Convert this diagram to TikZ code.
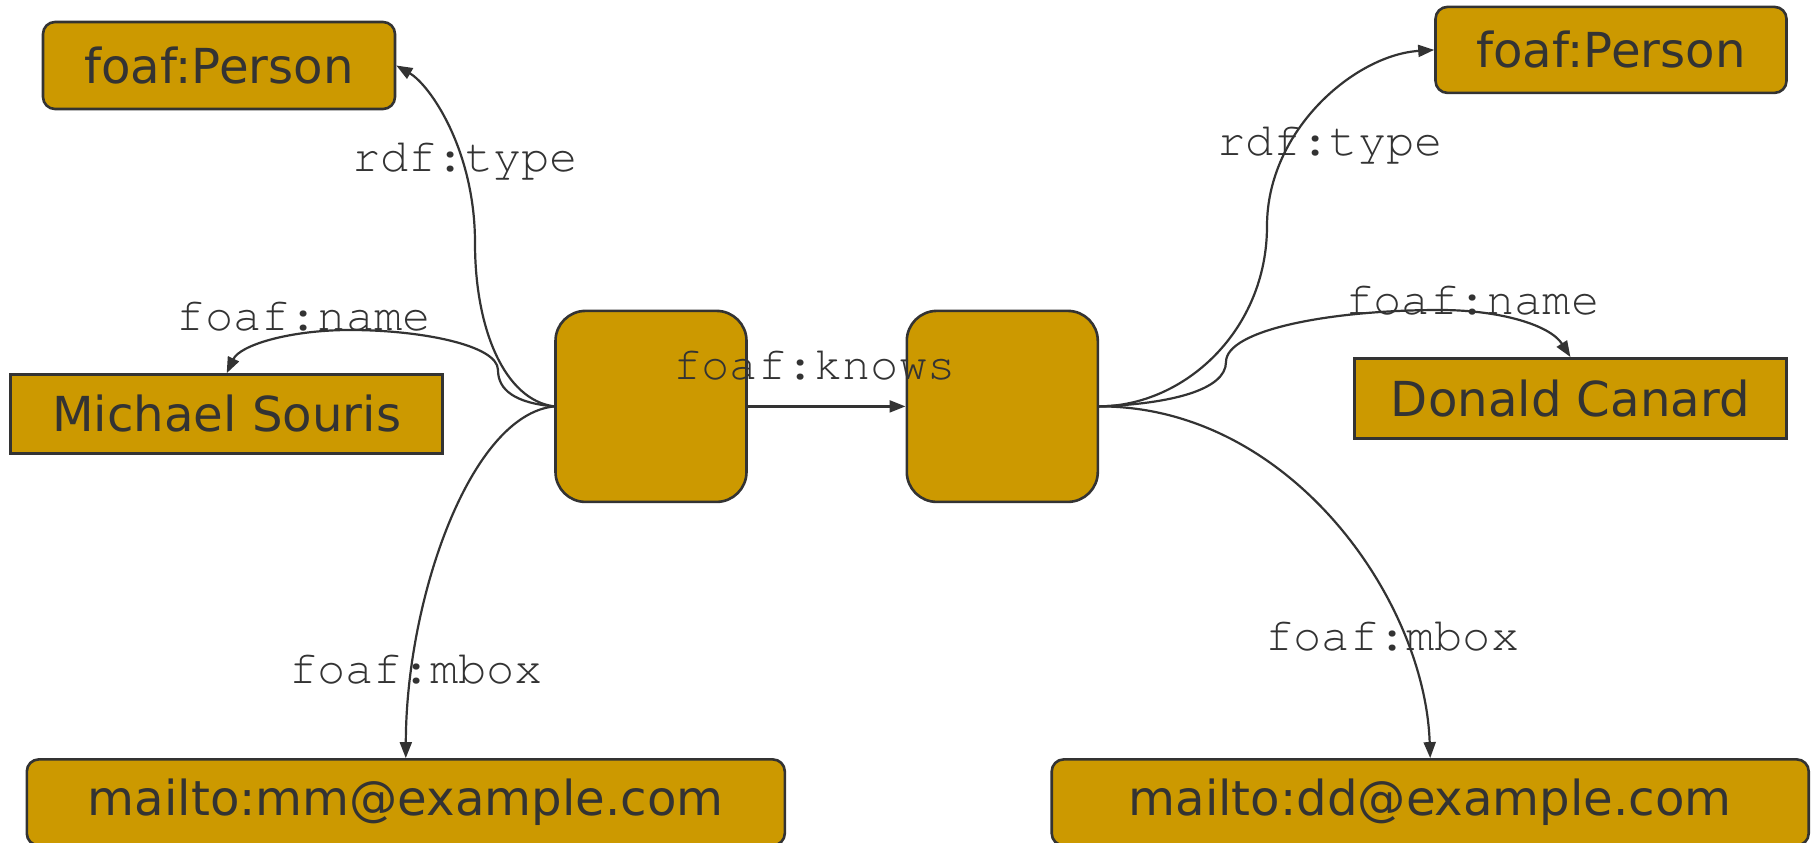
\documentclass[tikz,border=0pt]{standalone}
\usepackage{fontspec}
\setmainfont{DejaVu Sans}
\newfontfamily\labelfont{TeX Gyre Cursor}
\usetikzlibrary{arrows.meta}
\definecolor{gold}{HTML}{CC9900}
\definecolor{ink}{HTML}{333333}
\begin{document}
\begin{tikzpicture}[x=1pt,y=-1pt,
  box/.style={draw=ink,line width=2.6pt,fill=gold,text=ink,
    font=\fontsize{48.2}{58}\selectfont,inner sep=0pt,anchor=center},
  class/.style={box,rounded corners=12pt},
  literal/.style={box},
  bnode/.style={box,rounded corners=30pt,minimum width=191pt,minimum height=191pt},
  edge/.style={draw=ink,line width=2.2pt,-{Triangle[length=16pt,width=12pt]}},
  prop/.style={text=ink,font=\labelfont\fontsize{47}{56}\selectfont,inner sep=0pt,anchor=base}]
\useasboundingbox (0,0) rectangle (1818,843);
\fill[white] (0,0) rectangle (1818,843);

% resources and literals
\node[class,minimum width=352pt,minimum height=87pt] (personL) at (219,65.5) {foaf:Person};
\node[literal,minimum width=432pt,minimum height=79pt] (nameL) at (226.7,414) {Michael Souris};
\node[bnode] (b1) at (651,406.4) {};
\node[bnode] (b2) at (1002.3,406.4) {};
\node[class,minimum width=351pt,minimum height=86pt] (personR) at (1611,49.9) {foaf:Person};
\node[literal,minimum width=432pt,minimum height=80pt] (nameR) at (1570.4,398.3) {Donald Canard};
\node[class,minimum width=758pt,minimum height=86pt] (mboxL) at (405.8,802.4) {mailto:mm@example.com};
\node[class,minimum width=757pt,minimum height=86pt] (mboxR) at (1430.2,802.4) {mailto:dd@example.com};

% properties of the first blank node
\draw[edge] (b1.west) .. controls (505,400) and (475,330) .. (475,243)
  .. controls (475,150) and (430,85) .. (personL.east);
\draw[edge] (b1.west) .. controls (515,403) and (498,390) .. (498,370)
  .. controls (498,345) and (420,330) .. (350,330)
  .. controls (290,330) and (240,345) .. (nameL.north);
\draw[edge] (b1.west) .. controls (470,415) and (406,600) .. (mboxL.north);
\draw[edge] (b1.east) -- (b2.west);

% properties of the second blank node
\draw[edge] (b2.east) .. controls (1185,406) and (1267,330) .. (1267,226)
  .. controls (1267,130) and (1355,55) .. (personR.west);
\draw[edge] (b2.east) .. controls (1170,404) and (1226,390) .. (1226,362)
  .. controls (1226,330) and (1330,310) .. (1440,310)
  .. controls (1500,310) and (1550,325) .. (nameR.north);
\draw[edge] (b2.east) .. controls (1290,406) and (1425,600) .. (mboxR.north);

% predicate labels
\node[prop] (tL) at (465,171.6) {rdf:type};
\node[prop] (nL) at (303.8,330) {foaf:name};
\node[prop] (mL) at (416.2,683) {foaf:mbox};
\node[prop] (kn) at (814.5,379.5) {foaf:knows};
\node[prop] (tR) at (1329.8,155) {rdf:type};
\node[prop] (nR) at (1472.4,314.5) {foaf:name};
\node[prop] (mR) at (1392.4,650) {foaf:mbox};
\end{tikzpicture}
\end{document}
